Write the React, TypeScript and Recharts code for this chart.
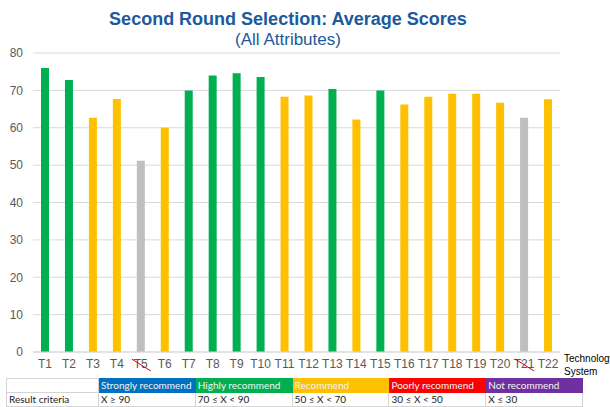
import React from 'react';
import { BarChart, Bar, XAxis, YAxis, CartesianGrid, Cell } from 'recharts';

const categories = ['T1','T2','T3','T4','T5','T6','T7','T8','T9','T10','T11','T12','T13','T14','T15','T16','T17','T18','T19','T20','T21','T22'];
const scores = [76, 72.8, 62.7, 67.7, 51.2, 60, 70, 74, 74.6, 73.6, 68.3, 68.6, 70.4, 62.2, 70, 66.2, 68.3, 69.1, 69.1, 66.7, 62.7, 67.6];
const ratings = ['highly','highly','recommend','recommend','excluded','recommend','highly','highly','highly','highly','recommend','recommend','highly','recommend','highly','recommend','recommend','recommend','recommend','recommend','excluded','recommend'];
const crossedOut = ['T5', 'T21'];
const yTicks = [0, 10, 20, 30, 40, 50, 60, 70, 80];

const ratingColors: Record<string, string> = {
  highly: '#00B050',
  recommend: '#FFC000',
  excluded: '#BFBFBF',
};

const criteriaLabels = ['Strongly recommend', 'Highly recommend', 'Recommend', 'Poorly recommend', 'Not recommend'];
const criteriaRanges = ['X ≥ 90', '70 ≤ X < 90', '50 ≤ X < 70', '30 ≤ X < 50', 'X ≤ 30'];
const criteriaColors = ['#0070C0', '#00B050', '#FFC000', '#FF0000', '#7030A0'];

const data = categories.map((name, i) => ({ name, score: scores[i], rating: ratings[i] }));

const XTick = (props: any) => {
  const { x, y, payload } = props;
  const label = payload.value as string;
  const crossed = crossedOut.includes(label);
  return (
    <g>
      <text x={x} y={y} dy="0.71em" textAnchor="middle" fill="#595959" fontSize={12} fontFamily="Liberation Sans, Arial, sans-serif">
        {label}
      </text>
      {crossed && <line x1={x - 9} y1={y} x2={x + 10} y2={y + 12} stroke="#E00000" strokeWidth={1} />}
    </g>
  );
};

const cellBase: React.CSSProperties = {
  border: '1px solid #D4D4D4',
  padding: '0 0 0 2px',
  height: 13,
  lineHeight: '13px',
  fontSize: 10,
  whiteSpace: 'nowrap',
  overflow: 'hidden',
  textAlign: 'left',
};

export default function App() {
  return (
    <div style={{ position: 'absolute', left: 0, top: 0, width: 610, height: 407, background: '#fff', fontFamily: 'Liberation Sans, Arial, sans-serif', overflow: 'hidden' }}>
      <BarChart width={610} height={407} data={data} margin={{ top: 53, right: 50, bottom: 0, left: 0 }}>
        <CartesianGrid vertical={false} stroke="#D9D9D9" />
        <XAxis
          dataKey="name"
          height={55}
          interval={0}
          tickLine={false}
          tickSize={0}
          tickMargin={7}
          axisLine={{ stroke: '#D9D9D9' }}
          tick={<XTick />}
        />
        <YAxis
          width={33}
          domain={[0, 80]}
          ticks={yTicks}
          axisLine={false}
          tickLine={false}
          tickSize={0}
          tickMargin={10}
          tick={{ fill: '#595959', fontSize: 12, fontFamily: 'Liberation Sans, Arial, sans-serif' }}
        />
        <Bar dataKey="score" barSize={8} isAnimationActive={false}>
          {data.map((d, i) => (
            <Cell key={i} fill={ratingColors[d.rating]} />
          ))}
        </Bar>
      </BarChart>

      <div style={{ position: 'absolute', left: 0, width: 576, top: 9, textAlign: 'center', color: '#1B5A9C', fontWeight: 'bold', fontSize: 18, lineHeight: '20px' }}>
        Second Round Selection: Average Scores
      </div>
      <div style={{ position: 'absolute', left: 0, width: 576, top: 30, textAlign: 'center', color: '#1B5A9C', fontSize: 17, lineHeight: '20px' }}>
        (All Attributes)
      </div>

      <div style={{ position: 'absolute', left: 564, top: 352, fontSize: 10, lineHeight: '13px', color: '#000' }}>
        Technology
        <br />
        System
      </div>

      <table style={{ position: 'absolute', left: 6, top: 378, width: 577, borderCollapse: 'collapse', tableLayout: 'fixed', fontFamily: 'Lato, Liberation Sans, sans-serif' }}>
        <tbody>
          <tr>
            <td style={{ ...cellBase, width: 89, background: '#fff' }}></td>
            {criteriaLabels.map((l, i) => (
              <td key={l} style={{ ...cellBase, background: criteriaColors[i], color: '#F4F4F4', border: `1px solid ${criteriaColors[i]}` }}>{l}</td>
            ))}
          </tr>
          <tr>
            <td style={{ ...cellBase, color: '#222' }}>Result criteria</td>
            {criteriaRanges.map((r) => (
              <td key={r} style={{ ...cellBase, color: '#222' }}>{r}</td>
            ))}
          </tr>
        </tbody>
      </table>
    </div>
  );
}
